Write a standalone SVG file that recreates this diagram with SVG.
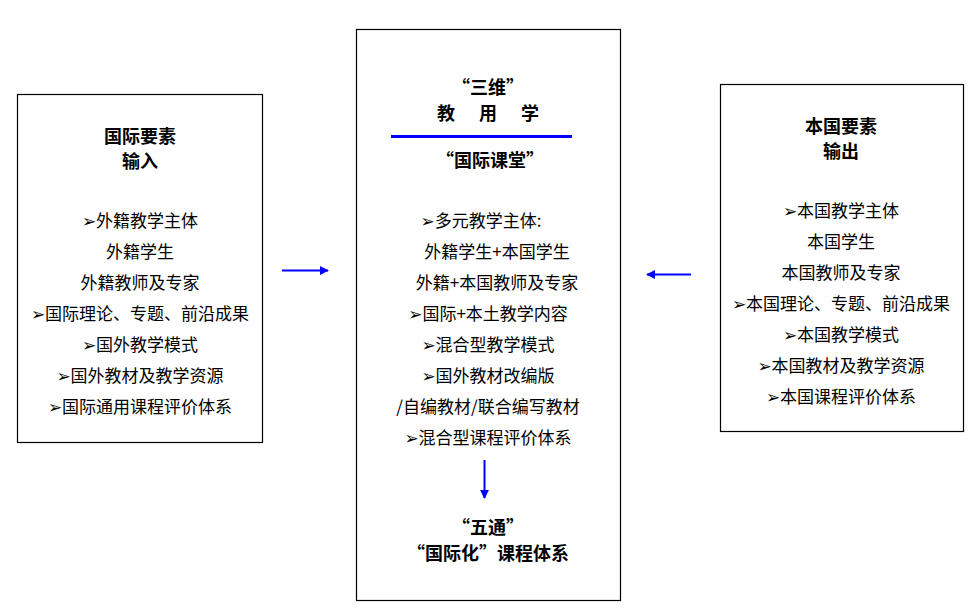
<svg xmlns="http://www.w3.org/2000/svg" width="976" height="612" viewBox="0 0 976 612">
<style>
.box{fill:#fff;stroke:#000;stroke-width:1.2}
text{font-family:"Noto Sans CJK SC","DejaVu Sans",sans-serif;fill:#000;text-anchor:middle;dominant-baseline:central}
.t{font-size:18px;font-weight:bold}
.i{font-size:17px}
.con{stroke:#0000ff;stroke-width:2;fill:none}
</style>
<defs>
<marker id="ah" viewBox="0 0 10 10" refX="9" refY="5" markerWidth="4.5" markerHeight="4.5" orient="auto" markerUnits="strokeWidth">
<path d="M0,0 L10,5 L0,10 Z" fill="#0000ff"/>
</marker>
</defs>
<rect width="976" height="612" fill="#fff"/>
<g id="input">
<rect class="box" x="17.5" y="94.5" width="245" height="348"/>
<text class="t" x="140" y="135">国际要素</text>
<text class="t" x="140" y="160">输入</text>
<text class="i" x="140" y="219">➢外籍教学主体</text>
<text class="i" x="140" y="250">外籍学生</text>
<text class="i" x="140" y="281">外籍教师及专家</text>
<text class="i" x="140" y="312">➢国际理论、专题、前沿成果</text>
<text class="i" x="140" y="343">➢国外教学模式</text>
<text class="i" x="140" y="374">➢国外教材及教学资源</text>
<text class="i" x="140" y="405">➢国际通用课程评价体系</text>
</g>
<g id="center">
<rect class="box" x="356.5" y="29.5" width="264" height="571"/>
<text class="t" x="488" y="86">“三维”</text>
<text class="t" x="446" y="112">教</text>
<text class="t" x="488" y="112">用</text>
<text class="t" x="530" y="112">学</text>
<line x1="391" y1="136.5" x2="572" y2="136.5" stroke="#0000ff" stroke-width="3"/>
<text class="t" x="490" y="159">“国际课堂”</text>
<text class="i" x="481" y="219">➢多元教学主体:</text>
<text class="i" x="497" y="250">外籍学生+本国学生</text>
<text class="i" x="497" y="281">外籍+本国教师及专家</text>
<text class="i" x="488" y="312">➢国际+本土教学内容</text>
<text class="i" x="488" y="343">➢混合型教学模式</text>
<text class="i" x="488" y="374">➢国外教材改编版</text>
<text class="i" x="488" y="405">/自编教材/联合编写教材</text>
<text class="i" x="488" y="436">➢混合型课程评价体系</text>
<text class="t" x="488" y="526">“五通”</text>
<text class="t" x="488" y="552">“国际化”课程体系</text>
</g>
<g id="output">
<rect class="box" x="720.5" y="84.5" width="243" height="347"/>
<text class="t" x="841" y="125">本国要素</text>
<text class="t" x="841" y="150">输出</text>
<text class="i" x="841" y="209">➢本国教学主体</text>
<text class="i" x="841" y="240">本国学生</text>
<text class="i" x="841" y="271">本国教师及专家</text>
<text class="i" x="841" y="302">➢本国理论、专题、前沿成果</text>
<text class="i" x="841" y="333">➢本国教学模式</text>
<text class="i" x="841" y="364">➢本国教材及教学资源</text>
<text class="i" x="841" y="395">➢本国课程评价体系</text>
</g>
<g id="connectors">
<line class="con" x1="282" y1="270.5" x2="328" y2="270.5" marker-end="url(#ah)"/>
<line class="con" x1="691" y1="274.5" x2="647" y2="274.5" marker-end="url(#ah)"/>
<line class="con" x1="484.5" y1="460" x2="484.5" y2="498" marker-end="url(#ah)"/>
</g>
</svg>
